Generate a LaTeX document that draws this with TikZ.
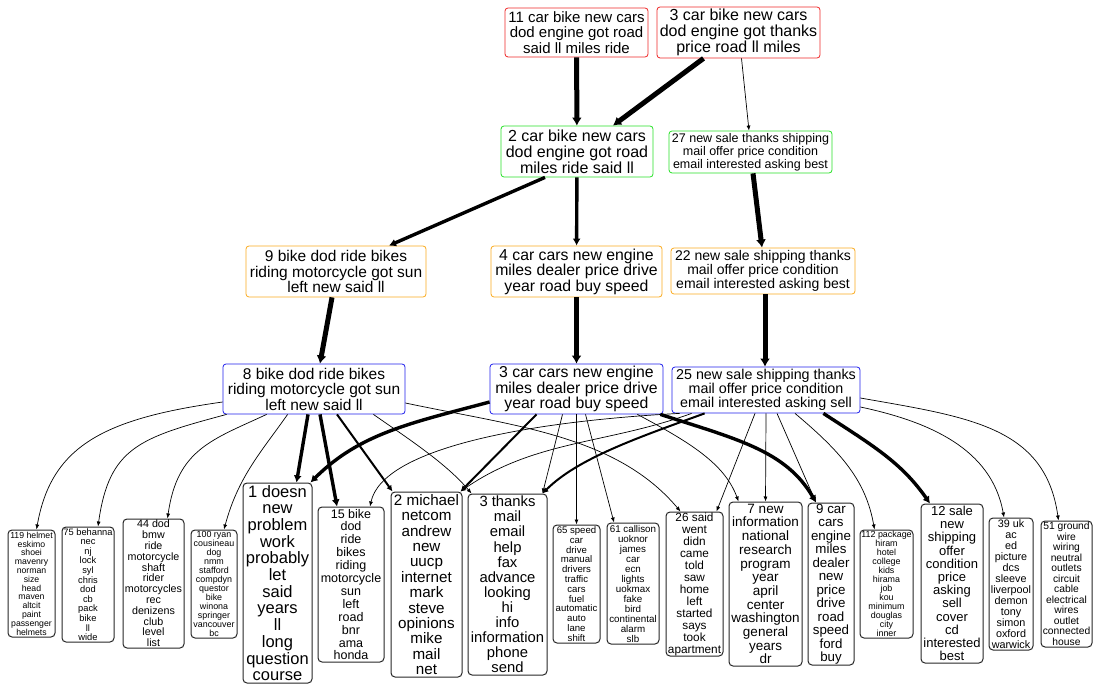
\documentclass[tikz,border=0pt]{standalone}
\usepackage{fontspec}
\setmainfont{Liberation Sans}
\usetikzlibrary{arrows.meta}

\definecolor{topred}{RGB}{238,40,40}
\definecolor{topgreen}{RGB}{40,225,40}
\definecolor{toporange}{RGB}{250,170,30}
\definecolor{topblue}{RGB}{30,30,235}

\newcommand{\fsz}[2]{\fontsize{#1}{#2}\selectfont}

\begin{document}
\begin{tikzpicture}[
    x=1pt, y=-1pt,
    topic/.style={
      draw,
      rounded corners=3pt,
      align=center,
      inner sep=0pt,
      line width=0.8pt
      },
    wh/.style 2 args={minimum width=#1pt, minimum height=#2pt},
    tred/.style={topic, draw=topred},
    tgreen/.style={topic, draw=topgreen},
    torange/.style={topic, draw=toporange},
    tblue/.style={topic, draw=topblue},
    leaf/.style={topic, draw=black!85, line width=1pt, rounded corners=4pt},
    lnk/.style={-{Latex[length=5pt,width=4pt]}, line width=0.7pt},
    lnkmid/.style={-{Latex[length=6pt,width=6pt]}, line width=2pt},
    lnkbold/.style={-{Latex[length=7pt,width=8pt]}, line width=3.4pt},
    lnkheavy/.style={-{Latex[length=8pt,width=10pt]}, line width=5pt}
    ]

\useasboundingbox (0,0) rectangle (1094,684);

\node[tred, wh={143}{49}, font=\fsz{15}{15.5}] (r11) at (576.5,32.5)
  {11 car bike new cars\\dod engine got road\\said ll miles ride};
\node[tred, wh={163}{51}, font=\fsz{16}{16.3}] (r3) at (738.5,32.5)
  {3 car bike new cars\\dod engine got thanks\\price road ll miles};
\node[tgreen, wh={152}{51}, font=\fsz{16}{16.2}] (g2) at (577,151.5)
  {2 car bike new cars\\dod engine got road\\miles ride said ll};
\node[tgreen, wh={163}{42}, font=\fsz{12.5}{12.8}] (g27) at (750.5,152)
  {27 new sale thanks shipping\\mail offer price condition\\email interested asking best};
\node[torange, wh={180}{51}, font=\fsz{15.5}{15.5}] (o9) at (336,271.5)
  {9 bike dod ride bikes\\riding motorcycle got sun\\left new said ll};
\node[torange, wh={171}{51}, font=\fsz{15.8}{15.5}] (o4) at (576.5,271.5)
  {4 car cars new engine\\miles dealer price drive\\year road buy speed};
\node[torange, wh={184}{46}, font=\fsz{14}{13.8}] (o22) at (763,271)
  {22 new sale shipping thanks\\mail offer price condition\\email interested asking best};
\node[tblue, wh={182}{50}, font=\fsz{15.5}{15.5}] (b8) at (314,389)
  {8 bike dod ride bikes\\riding motorcycle got sun\\left new said ll};
\node[tblue, wh={173}{50}, font=\fsz{15.8}{15.5}] (b3) at (576.5,389)
  {3 car cars new engine\\miles dealer price drive\\year road buy speed};
\node[tblue, wh={188}{46}, font=\fsz{14.3}{13.8}] (b25) at (766,390)
  {25 new sale shipping thanks\\mail offer price condition\\email interested asking sell};

\node[leaf, wh={47}{107}, font=\fsz{8.7}{8.8}] (l119) at (31.5,583.5)
  {119 helmet\\eskimo\\shoei\\mavenry\\norman\\size\\head\\maven\\altcit\\paint\\passenger\\helmets};
\node[leaf, wh={52}{115}, font=\fsz{9.3}{9.6}] (l75) at (88,584.5)
  {75 behanna\\nec\\nj\\lock\\syl\\chris\\dod\\cb\\pack\\bike\\ll\\wide};
\node[leaf, wh={61}{129}, font=\fsz{10.7}{10.8}] (l44) at (153.5,583.5)
  {44 dod\\bmw\\ride\\motorcycle\\shaft\\rider\\motorcycles\\rec\\denizens\\club\\level\\list};
\node[leaf, wh={46}{108}, font=\fsz{8.9}{9}] (l100) at (214,584)
  {100 ryan\\cousineau\\dog\\nmm\\stafford\\compdyn\\questor\\bike\\winona\\springer\\vancouver\\bc};
\node[leaf, wh={69}{200}, font=\fsz{16.5}{16.7}] (l1) at (277.5,583)
  {1 doesn\\new\\problem\\work\\probably\\let\\said\\years\\ll\\long\\question\\course};
\node[leaf, wh={66}{155}, font=\fsz{12.5}{12.9}] (l15) at (351,584.5)
  {15 bike\\dod\\ride\\bikes\\riding\\motorcycle\\sun\\left\\road\\bnr\\ama\\honda};
\node[leaf, wh={71}{185}, font=\fsz{15.2}{15.4}] (l2) at (426.5,584.5)
  {2 michael\\netcom\\andrew\\new\\uucp\\internet\\mark\\steve\\opinions\\mike\\mail\\net};
\node[leaf, wh={79}{181}, font=\fsz{14.8}{15.1}] (l3) at (507.5,584.5)
  {3 thanks\\mail\\email\\help\\fax\\advance\\looking\\hi\\info\\information\\phone\\send};
\node[leaf, wh={47}{118}, font=\fsz{9.6}{9.8}] (l65) at (576.5,584)
  {65 speed\\car\\drive\\manual\\drivers\\traffic\\cars\\fuel\\automatic\\auto\\lane\\shift};
\node[leaf, wh={52}{121}, font=\fsz{9.8}{10}] (l61) at (633,583.5)
  {61 callison\\uoknor\\james\\car\\ecn\\lights\\uokmax\\fake\\bird\\continental\\alarm\\slb};
\node[leaf, wh={57}{144}, font=\fsz{11.8}{12}] (l26) at (694.5,584)
  {26 said\\went\\didn\\came\\told\\saw\\home\\left\\started\\says\\took\\apartment};
\node[leaf, wh={73}{164}, font=\fsz{13.5}{13.7}] (l7) at (765.5,584)
  {7 new\\information\\national\\research\\program\\year\\april\\center\\washington\\general\\years\\dr};
\node[leaf, wh={46}{162}, font=\fsz{13.3}{13.5}] (l9) at (831,584)
  {9 car\\cars\\engine\\miles\\dealer\\new\\price\\drive\\road\\speed\\ford\\buy};
\node[leaf, wh={53}{108}, font=\fsz{8.9}{9}] (l112) at (886.5,584)
  {112 package\\hiram\\hotel\\college\\kids\\hirama\\job\\kou\\minimum\\douglas\\city\\inner};
\node[leaf, wh={62}{159}, font=\fsz{13}{13.2}] (l12) at (952,583.5)
  {12 sale\\new\\shipping\\offer\\condition\\price\\asking\\sell\\cover\\cd\\interested\\best};
\node[leaf, wh={44}{132}, font=\fsz{10.8}{11}] (l39) at (1011,584)
  {39 uk\\ac\\ed\\picture\\dcs\\sleeve\\liverpool\\demon\\tony\\simon\\oxford\\warwick};
\node[leaf, wh={51}{126}, font=\fsz{10.3}{10.5}] (l51) at (1066.5,584)
  {51 ground\\wire\\wiring\\neutral\\outlets\\circuit\\cable\\electrical\\wires\\outlet\\connected\\house};

\draw[lnkheavy] (r11) -- (g2);
\draw[lnkheavy] ([xshift=-35pt]r3.south) -- ([xshift=36pt]g2.north);
\draw[lnk] ([xshift=3pt]r3.south) -- ([xshift=-1.5pt]g27.north);
\draw[lnkbold] ([xshift=-32pt]g2.south) -- ([xshift=53pt]o9.north);
\draw[lnkbold] (g2) -- (o4);
\draw[lnkheavy] ([xshift=2.5pt]g27.south) -- ([xshift=-1pt]o22.north);
\draw[lnkheavy] ([xshift=-4pt]o9.south) -- ([xshift=6pt]b8.north);
\draw[lnkheavy] (o4) -- (b3);
\draw[lnkheavy] ([xshift=2pt]o22.south) -- ([xshift=-1pt]b25.north);

\draw[lnk] ([yshift=-13pt]b8.west) .. controls +(188:120pt) and +(80:85pt) .. ([xshift=5pt]l119.north);
\draw[lnk] ([xshift=4pt]b8.south west) .. controls +(195:90pt) and +(82:80pt) .. ([xshift=10pt]l75.north);
\draw[lnk] ([xshift=44pt]b8.south west) .. controls +(205:60pt) and +(82:70pt) .. ([xshift=14pt]l44.north);
\draw[lnk] ([xshift=65pt]b8.south west) .. controls +(235:45pt) and +(75:55pt) .. ([xshift=10pt]l100.north);
\draw[lnkbold] ([xshift=-6pt]b8.south) -- ([xshift=19pt]l1.north);
\draw[lnkbold] ([xshift=6pt]b8.south) -- ([xshift=-14pt]l15.north);
\draw[lnkmid] ([xshift=23pt]b8.south) -- ([xshift=2pt]l2.north west);
\draw[lnk] ([xshift=-32pt]b8.south east) .. controls +(-35:40pt) and +(130:40pt) .. ([xshift=4pt]l3.north west);
\draw[lnk] ([yshift=-14pt]b8.east) .. controls +(-12:110pt) and +(130:100pt) .. ([xshift=-14pt]l26.north);

\draw[lnkbold] ([yshift=-13pt]b3.west) .. controls +(195:80pt) and +(45:70pt) .. ([xshift=-2pt]l1.north east);
\draw[lnkmid] ([xshift=-40pt]b3.south) -- ([xshift=-2pt]l2.north east);
\draw[lnk] ([xshift=-14pt]b3.south) -- ([xshift=-5pt]l3.north east);
\draw[lnk] (b3.south) -- (l65.north);
\draw[lnk] ([xshift=9pt]b3.south) -- ([xshift=-19pt]l61.north);
\draw[lnk] ([xshift=-26pt]b3.south east) .. controls +(-28:60pt) and +(110:40pt) .. ([xshift=10pt]l7.north west);
\draw[lnkbold] ([xshift=-3pt]b3.south east) .. controls +(-18:80pt) and +(120:60pt) .. ([xshift=-15pt]l9.north);

\draw[lnk] ([xshift=8pt]b25.south west) .. controls +(183:150pt) and +(78:60pt) .. ([xshift=19pt]l15.north);
\draw[lnk] ([xshift=20pt]b25.south west) .. controls +(200:90pt) and +(35:90pt) .. ([xshift=-2pt]l2.north east);
\draw[lnkmid] ([xshift=33pt]b25.south west) .. controls +(200:70pt) and +(45:50pt) .. ([xshift=-5pt]l3.north east);
\draw[lnk] ([xshift=-11pt]b25.south) -- ([xshift=22pt]l26.north);
\draw[lnk] (b25.south) -- (l7.north);
\draw[lnk] ([xshift=11pt]b25.south) -- ([xshift=-15pt]l9.north);
\draw[lnk] ([xshift=29pt]b25.south) .. controls +(-40:60pt) and +(100:50pt) .. ([xshift=-12pt]l112.north);
\draw[lnkbold] ([xshift=-37pt]b25.south east) .. controls +(-33:60pt) and +(125:50pt) .. ([xshift=-22pt]l12.north);
\draw[lnk] ([yshift=-17pt]b25.east) .. controls +(-12:70pt) and +(100:70pt) .. ([xshift=-7pt]l39.north);
\draw[lnk] ([yshift=-8pt]b25.east) .. controls +(-10:110pt) and +(98:95pt) .. ([xshift=-8pt]l51.north);
\end{tikzpicture}
\end{document}
